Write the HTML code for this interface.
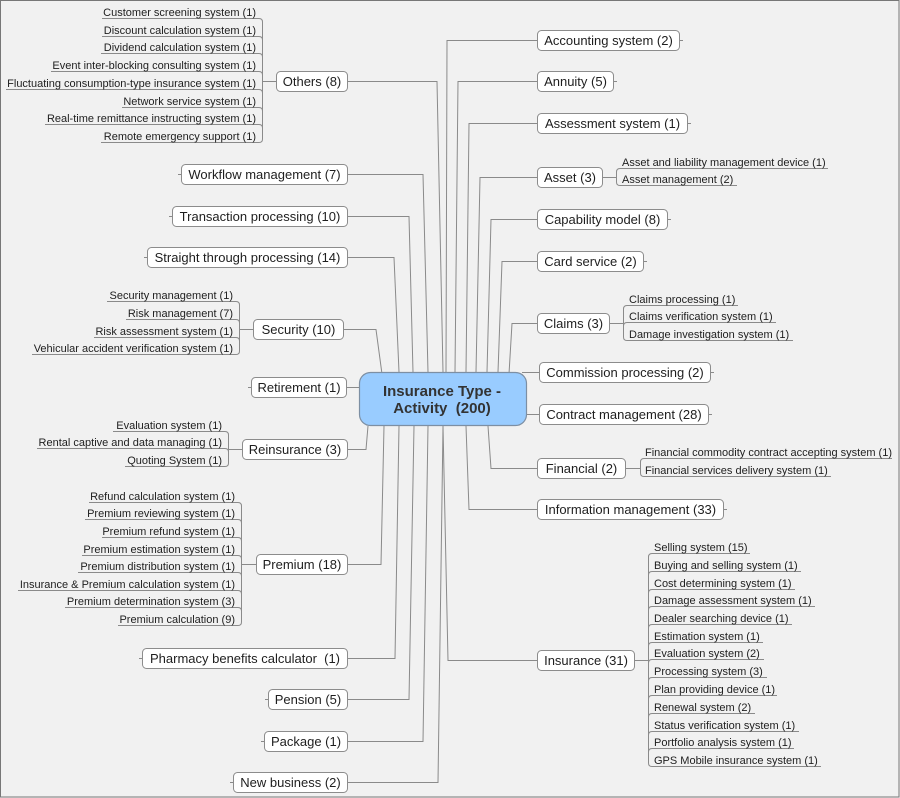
<!DOCTYPE html>
<html><head><meta charset="utf-8"><style>
html,body{margin:0;padding:0;background:#f1f1f1;}
svg{display:block;}
text{font-family:"Liberation Sans",Arial,sans-serif;fill:#1e1e1e;}
.m{font-size:13px;}
.s{font-size:11px;}
.c{font-size:15px;font-weight:bold;fill:#333;white-space:pre;}
.ln{fill:none;stroke:#8a8a8a;stroke-width:1;}
.bx{fill:#fff;stroke:#8c8c8c;stroke-width:1;}
</style></head><body>
<svg width="900" height="798" viewBox="0 0 900 798" xmlns="http://www.w3.org/2000/svg">
<rect x="0" y="0" width="900" height="798" fill="#f1f1f1"/>
<rect x="0.5" y="0.5" width="898.5" height="796.5" fill="none" stroke="#777" stroke-width="1"/>

<!-- connectors to center -->
<g class="ln">
<polyline points="537,40.5 447,40.5 446,372"/>
<polyline points="537,81.5 458,81.5 455,372"/>
<polyline points="537,123.5 469,123.5 466,372"/>
<polyline points="537,177.5 480,177.5 476,372"/>
<polyline points="537,219.5 491,219.5 487,372"/>
<polyline points="537,261.5 502,261.5 498,372"/>
<polyline points="537,323.5 512,323.5 509,374"/>
<polyline points="539,372.5 522,372.5"/>
<polyline points="539,414.5 527,414.5"/>
<polyline points="537,468.5 491,468.5 488,426"/>
<polyline points="537,509.5 469,509.5 466,426"/>
<polyline points="537,660.5 448,660.5 443,426"/>

<polyline points="348,81.5 437,81.5 443,372"/>
<polyline points="348,174.5 423,174.5 428,372"/>
<polyline points="348,216.5 409,216.5 413,372"/>
<polyline points="348,257.5 394,257.5 399,372"/>
<polyline points="344,329.5 376,329.5 382,374"/>
<polyline points="347,387.5 359,387.5"/>
<polyline points="348,449.5 366,449.5 368,426"/>
<polyline points="348,564.5 381,564.5 384,426"/>
<polyline points="348,658.5 395,658.5 399,426"/>
<polyline points="348,699.5 409,699.5 414,426"/>
<polyline points="348,741.5 423,741.5 428,426"/>
<polyline points="348,782.5 438,782.5 443,426"/>
</g>

<!-- center node -->
<rect x="359.5" y="372.5" width="167" height="53" rx="11" ry="11" fill="#99ccff" stroke="#7d8fa3" stroke-width="1.2"/>
<text class="c" x="442" y="396" text-anchor="middle">Insurance Type -</text>
<text class="c" x="442" y="413" text-anchor="middle">Activity  (200)</text>

<!-- right main nodes -->
<g text-anchor="middle">
<rect class="bx" x="537.5" y="30.5" width="142" height="20" rx="4"/>
<line class="ln" x1="680" y1="40.5" x2="683" y2="40.5"/>
<text class="m" x="608.5" y="45">Accounting system (2)</text>

<rect class="bx" x="537.5" y="71.5" width="76" height="20" rx="4"/>
<line class="ln" x1="614" y1="81.5" x2="617" y2="81.5"/>
<text class="m" x="575.5" y="86">Annuity (5)</text>

<rect class="bx" x="537.5" y="113.5" width="150" height="20" rx="4"/>
<line class="ln" x1="688" y1="123.5" x2="691" y2="123.5"/>
<text class="m" x="612.5" y="128">Assessment system (1)</text>

<rect class="bx" x="537.5" y="167.5" width="65" height="20" rx="4"/>
<text class="m" x="570" y="182">Asset (3)</text>

<rect class="bx" x="537.5" y="209.5" width="130" height="20" rx="4"/>
<line class="ln" x1="668" y1="219.5" x2="671" y2="219.5"/>
<text class="m" x="602.5" y="224">Capability model (8)</text>

<rect class="bx" x="537.5" y="251.5" width="106" height="20" rx="4"/>
<line class="ln" x1="644" y1="261.5" x2="647" y2="261.5"/>
<text class="m" x="590.5" y="266">Card service (2)</text>

<rect class="bx" x="537.5" y="313.5" width="72" height="20" rx="4"/>
<text class="m" x="573.5" y="328">Claims (3)</text>

<rect class="bx" x="539.5" y="362.5" width="171" height="20" rx="4"/>
<line class="ln" x1="711" y1="372.5" x2="714" y2="372.5"/>
<text class="m" x="625" y="377">Commission processing (2)</text>

<rect class="bx" x="539.5" y="404.5" width="169" height="20" rx="4"/>
<line class="ln" x1="709" y1="414.5" x2="712" y2="414.5"/>
<text class="m" x="624" y="419">Contract management (28)</text>

<rect class="bx" x="537.5" y="458.5" width="88" height="20" rx="4"/>
<text class="m" x="581.5" y="473">Financial (2)</text>

<rect class="bx" x="537.5" y="499.5" width="186" height="20" rx="4"/>
<line class="ln" x1="724" y1="509.5" x2="727" y2="509.5"/>
<text class="m" x="630.5" y="514">Information management (33)</text>

<rect class="bx" x="537.5" y="650.5" width="97" height="20" rx="4"/>
<text class="m" x="586" y="665">Insurance (31)</text>
</g>

<!-- left main nodes -->
<g>
<rect class="bx" x="276.5" y="71.5" width="71" height="20" rx="4"/>
<text class="m" x="312" y="86" text-anchor="middle">Others (8)</text>

<rect class="bx" x="181.5" y="164.5" width="166" height="20" rx="4"/>
<line class="ln" x1="178" y1="174.5" x2="181" y2="174.5"/>
<text class="m" x="264.5" y="179" text-anchor="middle">Workflow management (7)</text>

<rect class="bx" x="172.5" y="206.5" width="175" height="20" rx="4"/>
<line class="ln" x1="169" y1="216.5" x2="172" y2="216.5"/>
<text class="m" x="260" y="221" text-anchor="middle">Transaction processing (10)</text>

<rect class="bx" x="147.5" y="247.5" width="200" height="20" rx="4"/>
<line class="ln" x1="144" y1="257.5" x2="147" y2="257.5"/>
<text class="m" x="247.5" y="262" text-anchor="middle">Straight through processing (14)</text>

<rect class="bx" x="253.5" y="319.5" width="90" height="20" rx="4"/>
<text class="m" x="298.5" y="334" text-anchor="middle">Security (10)</text>

<rect class="bx" x="251.5" y="377.5" width="95" height="20" rx="4"/>
<line class="ln" x1="248" y1="387.5" x2="251" y2="387.5"/>
<text class="m" x="299" y="392" text-anchor="middle">Retirement (1)</text>

<rect class="bx" x="242.5" y="439.5" width="105" height="20" rx="4"/>
<text class="m" x="295" y="454" text-anchor="middle">Reinsurance (3)</text>

<rect class="bx" x="256.5" y="554.5" width="91" height="20" rx="4"/>
<text class="m" x="302" y="569" text-anchor="middle">Premium (18)</text>

<rect class="bx" x="142.5" y="648.5" width="205" height="20" rx="4"/>
<line class="ln" x1="139" y1="658.5" x2="142" y2="658.5"/>
<text class="m" x="245" y="663" text-anchor="middle" style="white-space:pre">Pharmacy benefits calculator  (1)</text>

<rect class="bx" x="268.5" y="689.5" width="79" height="20" rx="4"/>
<line class="ln" x1="265" y1="699.5" x2="268" y2="699.5"/>
<text class="m" x="308" y="704" text-anchor="middle">Pension (5)</text>

<rect class="bx" x="264.5" y="731.5" width="83" height="20" rx="4"/>
<line class="ln" x1="261" y1="741.5" x2="264" y2="741.5"/>
<text class="m" x="306" y="746" text-anchor="middle">Package (1)</text>

<rect class="bx" x="233.5" y="772.5" width="114" height="20" rx="4"/>
<line class="ln" x1="230" y1="782.5" x2="233" y2="782.5"/>
<text class="m" x="290.5" y="787" text-anchor="middle">New business (2)</text>
</g>

<!-- LEFT subtopic brackets -->
<!-- Others: bx=262 -->
<g class="ln">
<line x1="262" y1="81.5" x2="276" y2="81.5"/>
<path d="M102,18.5 H259 Q262.5,18.5 262.5,22 V139 Q262.5,142.5 259,142.5 H101"/>
<path d="M102,36.5 H259 Q262.5,36.5 262.5,40"/>
<path d="M101,53.5 H259 Q262.5,53.5 262.5,57"/>
<path d="M51,71.5 H259 Q262.5,71.5 262.5,75"/>
<path d="M6,89.5 H259 Q262.5,89.5 262.5,93"/>
<path d="M122,107.5 H259 Q262.5,107.5 262.5,111"/>
<path d="M45,124.5 H259 Q262.5,124.5 262.5,128"/>
</g>
<g class="s" text-anchor="end">
<text x="256" y="16">Customer screening system (1)</text>
<text x="256" y="34">Discount calculation system (1)</text>
<text x="256" y="51">Dividend calculation system (1)</text>
<text x="256" y="69">Event inter-blocking consulting system (1)</text>
<text x="256" y="87">Fluctuating consumption-type insurance system (1)</text>
<text x="256" y="105">Network service system (1)</text>
<text x="256" y="122">Real-time remittance instructing system (1)</text>
<text x="256" y="140">Remote emergency support (1)</text>
</g>

<!-- Security: bx=239 -->
<g class="ln">
<line x1="239" y1="329.5" x2="253" y2="329.5"/>
<path d="M107,301.5 H236 Q239.5,301.5 239.5,305 V351 Q239.5,354.5 236,354.5 H32"/>
<path d="M126,319.5 H236 Q239.5,319.5 239.5,323"/>
<path d="M94,337.5 H236 Q239.5,337.5 239.5,341"/>
</g>
<g class="s" text-anchor="end">
<text x="233" y="299">Security management (1)</text>
<text x="233" y="317">Risk management (7)</text>
<text x="233" y="335">Risk assessment system (1)</text>
<text x="233" y="352">Vehicular accident verification system (1)</text>
</g>

<!-- Reinsurance: bx=228 -->
<g class="ln">
<line x1="228" y1="449.5" x2="242" y2="449.5"/>
<path d="M113,431.5 H225 Q228.5,431.5 228.5,435 V463 Q228.5,466.5 225,466.5 H125"/>
<path d="M37,448.5 H225 Q228.5,448.5 228.5,452"/>
</g>
<g class="s" text-anchor="end">
<text x="222" y="429">Evaluation system (1)</text>
<text x="222" y="446">Rental captive and data managing (1)</text>
<text x="222" y="464">Quoting System (1)</text>
</g>

<!-- Premium: bx=241 -->
<g class="ln">
<line x1="241" y1="564.5" x2="256" y2="564.5"/>
<path d="M89,502.5 H238 Q241.5,502.5 241.5,506 V622 Q241.5,625.5 238,625.5 H118"/>
<path d="M85,519.5 H238 Q241.5,519.5 241.5,523"/>
<path d="M102,537.5 H238 Q241.5,537.5 241.5,541"/>
<path d="M82,555.5 H238 Q241.5,555.5 241.5,559"/>
<path d="M78,572.5 H238 Q241.5,572.5 241.5,576"/>
<path d="M18,590.5 H238 Q241.5,590.5 241.5,594"/>
<path d="M65,607.5 H238 Q241.5,607.5 241.5,611"/>
</g>
<g class="s" text-anchor="end">
<text x="235" y="500">Refund calculation system (1)</text>
<text x="235" y="517">Premium reviewing system (1)</text>
<text x="235" y="535">Premium refund system (1)</text>
<text x="235" y="553">Premium estimation system (1)</text>
<text x="235" y="570">Premium distribution system (1)</text>
<text x="235" y="588">Insurance &amp; Premium calculation system (1)</text>
<text x="235" y="605">Premium determination system (3)</text>
<text x="235" y="623">Premium calculation (9)</text>
</g>

<!-- RIGHT subtopic brackets -->
<!-- Asset: bx=617 -->
<g class="ln">
<line x1="603" y1="177.5" x2="617" y2="177.5"/>
<path d="M828,168.5 H620 Q616.5,168.5 616.5,172 V182 Q616.5,185.5 620,185.5 H737"/>
</g>
<g class="s">
<text x="622" y="166">Asset and liability management device (1)</text>
<text x="622" y="183">Asset management (2)</text>
</g>

<!-- Claims: bx=624 -->
<g class="ln">
<line x1="610" y1="323.5" x2="624" y2="323.5"/>
<path d="M738,305.5 H627 Q623.5,305.5 623.5,309 V337 Q623.5,340.5 627,340.5 H793"/>
<path d="M776,322.5 H627 Q623.5,322.5 623.5,326"/>
</g>
<g class="s">
<text x="629" y="303">Claims processing (1)</text>
<text x="629" y="320">Claims verification system (1)</text>
<text x="629" y="338">Damage investigation system (1)</text>
</g>

<!-- Financial: bx=641 -->
<g class="ln">
<line x1="626" y1="468.5" x2="641" y2="468.5"/>
<path d="M892,458.5 H644 Q640.5,458.5 640.5,462 V473 Q640.5,476.5 644,476.5 H831"/>
</g>
<g class="s">
<text x="645" y="456">Financial commodity contract accepting system (1)</text>
<text x="645" y="474">Financial services delivery system (1)</text>
</g>

<!-- Insurance: bx=649 -->
<g class="ln">
<line x1="635" y1="660.5" x2="649" y2="660.5"/>
<path d="M750,553.5 H652 Q648.5,553.5 648.5,557 V763 Q648.5,766.5 652,766.5 H821"/>
<path d="M801,571.5 H652 Q648.5,571.5 648.5,575"/>
<path d="M795,589.5 H652 Q648.5,589.5 648.5,593"/>
<path d="M815,606.5 H652 Q648.5,606.5 648.5,610"/>
<path d="M792,624.5 H652 Q648.5,624.5 648.5,628"/>
<path d="M763,642.5 H652 Q648.5,642.5 648.5,646"/>
<path d="M764,659.5 H652 Q648.5,659.5 648.5,663"/>
<path d="M767,677.5 H652 Q648.5,677.5 648.5,681"/>
<path d="M777,695.5 H652 Q648.5,695.5 648.5,699"/>
<path d="M755,713.5 H652 Q648.5,713.5 648.5,717"/>
<path d="M799,731.5 H652 Q648.5,731.5 648.5,735"/>
<path d="M794,748.5 H652 Q648.5,748.5 648.5,752"/>
</g>
<g class="s">
<text x="654" y="551">Selling system (15)</text>
<text x="654" y="569">Buying and selling system (1)</text>
<text x="654" y="587">Cost determining system (1)</text>
<text x="654" y="604">Damage assessment system (1)</text>
<text x="654" y="622">Dealer searching device (1)</text>
<text x="654" y="640">Estimation system (1)</text>
<text x="654" y="657">Evaluation system (2)</text>
<text x="654" y="675">Processing system (3)</text>
<text x="654" y="693">Plan providing device (1)</text>
<text x="654" y="711">Renewal system (2)</text>
<text x="654" y="729">Status verification system (1)</text>
<text x="654" y="746">Portfolio analysis system (1)</text>
<text x="654" y="764">GPS Mobile insurance system (1)</text>
</g>
</svg>
</body></html>
